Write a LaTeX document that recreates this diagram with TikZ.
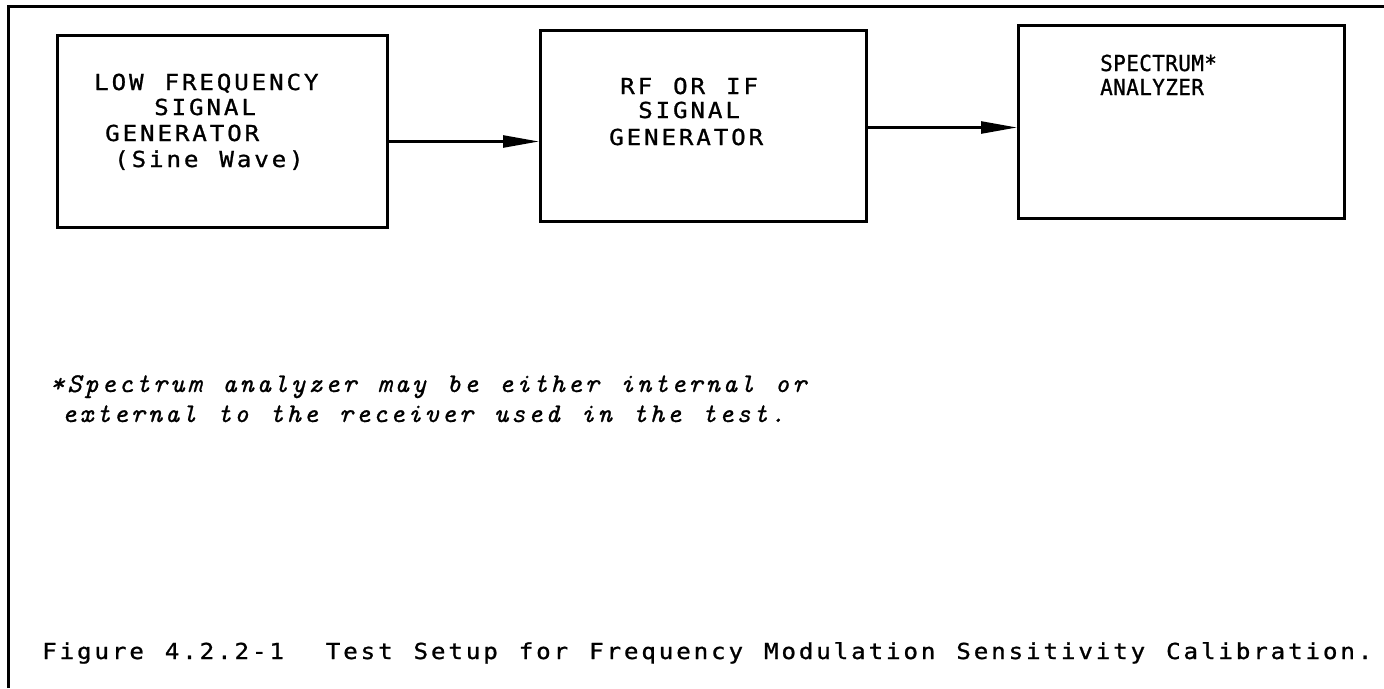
\documentclass[tikz,border=0pt]{standalone}
\usepackage{fontspec}
\usetikzlibrary{arrows.meta}
\newfontfamily\gothic[FakeStretch=1.1,FakeBold=1,LetterSpace=13,WordSpace=1.2]{DejaVu Sans Mono}
\newfontfamily\gothicn[FakeStretch=0.95,FakeBold=1,LetterSpace=2,WordSpace=1.0]{DejaVu Sans Mono}
\newfontfamily\notefont[FakeBold=0.8,LetterSpace=11,WordSpace=1.22]{lmmono10-italic.otf}
\begin{document}
\begin{tikzpicture}[x=1pt,y=-1pt]
\tikzset{
  frameline/.style={line width=3pt},
  blk/.style={draw, line width=3pt, inner sep=0pt, anchor=north west},
  lbl/.style={anchor=base west, inner sep=0pt, font=\gothic\fontsize{22}{22}\selectfont},
  lbln/.style={anchor=base west, inner sep=0pt, font=\gothicn\fontsize{22}{22}\selectfont},
  note/.style={anchor=base west, inner sep=0pt, font=\notefont\fontsize{27}{27}\selectfont},
  arr/.style={line width=2.5pt, -{Triangle[length=36pt,width=12pt]}},
}
\useasboundingbox (0,0) rectangle (1384,688);
\coordinate (fbl) at (8,688);
\coordinate (ftl) at (8,6);
\coordinate (ftr) at (1384,6);
\draw[frameline] (fbl) -- (ftl) -- (ftr);

\node[blk, minimum width=330pt, minimum height=192pt] (b1) at (56,34) {};
\node[blk, minimum width=326pt, minimum height=191pt] (b2) at (539,29) {};
\node[blk, minimum width=326pt, minimum height=193pt] (b3) at (1017,24) {};

\draw[arr] ([yshift=-10pt]b1.east) -- ([yshift=-15.5pt]b2.west);
\draw[arr] ([yshift=-1.5pt]b2.east) -- ([yshift=-5.5pt]b3.west);

\node[lbl] (t1a) at (94,90) {LOW FREQUENCY};
\node[lbl] (t1b) at (154,115) {SIGNAL};
\node[lbl] (t1c) at (105,141) {GENERATOR};
\node[lbl] (t1d) at (114,167) {(Sine Wave)};
\node[lbl] (t2a) at (620,94) {RF OR IF};
\node[lbl] (t2b) at (638,118) {SIGNAL};
\node[lbl] (t2c) at (609,145) {GENERATOR};
\node[lbln] (t3a) at (1100,71) {SPECTRUM*};
\node[lbln] (t3b) at (1100,95) {ANALYZER};

\node[note] (n1) at (50,392) {*Spectrum analyzer may be either internal or};
\node[note] (n2) at (62,422) {external to the receiver used in the test.};

\node[lbl] (cap) at (42,659) {Figure 4.2.2-1\ \ Test Setup for Frequency Modulation Sensitivity Calibration.};
\end{tikzpicture}
\end{document}
